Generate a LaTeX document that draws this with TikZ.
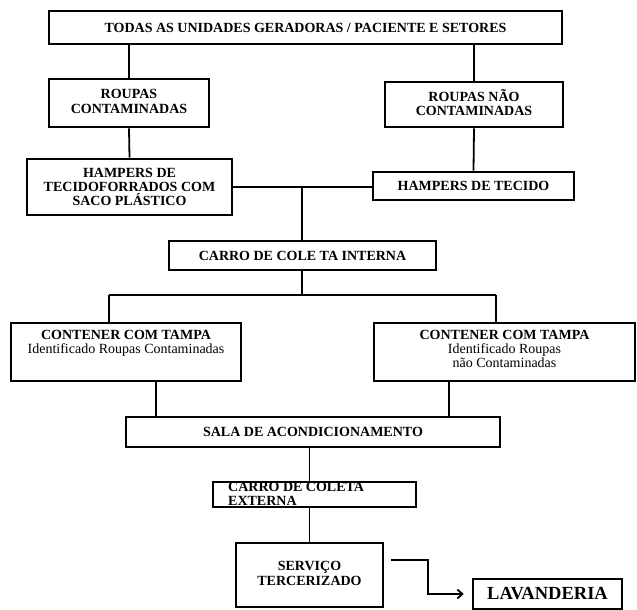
\documentclass[tikz,border=0pt]{standalone}
\usepackage{fontspec}
\setmainfont{Liberation Serif}
\usetikzlibrary{arrows.meta}
\newcommand\idfont{\fontsize{14}{14}\selectfont\mdseries}
\begin{document}
\begin{tikzpicture}[x=1pt,y=-1pt,
  box/.style={draw=black,line width=2.6pt,rectangle,inner sep=0pt,align=center,
    font=\fontsize{14}{14.3}\selectfont\bfseries},
  plain/.style={inner sep=0pt,align=center,font=\fontsize{14}{14}\selectfont\bfseries},
  conn/.style={draw=black,line width=1.8pt},
  arr/.style={conn,-{Straight Barb[length=5pt,width=9pt,line width=1.8pt]},shorten >=8pt}]
\useasboundingbox[fill=white] (0,0) rectangle (637,610);

% boxes: centre, width, height
\node[box,minimum width=513,minimum height=33] (todas) at (305.5,27.5)
  {TODAS AS UNIDADES GERADORAS / PACIENTE E SETORES};
\node[box,minimum width=160,minimum height=48] (rc) at (129,103)
  {\raisebox{4pt}{\begin{tabular}{@{}c@{}}ROUPAS\\CONTAMINADAS\end{tabular}}};
\node[box,minimum width=178,minimum height=45] (rn) at (474,104.5)
  {\raisebox{2pt}{\begin{tabular}{@{}c@{}}ROUPAS NÃO\\CONTAMINADAS\end{tabular}}};
\node[box,minimum width=205,minimum height=56] (hl) at (129.5,187)
  {HAMPERS DE\\TECIDOFORRADOS COM\\SACO PLÁSTICO};
\node[box,minimum width=201,minimum height=28] (ht) at (473.5,186)
  {HAMPERS DE TECIDO};
\node[box,minimum width=267,minimum height=29] (ci) at (302.5,255.5)
  {CARRO DE COLE TA INTERNA};
\node[box,minimum width=230,minimum height=58] (cl) at (126,352) {};
\node[plain,anchor=north] (clt) at (126,330)
  {CONTENER COM TAMPA\\{\idfont Identificado Roupas Contaminadas}};
\node[box,minimum width=261,minimum height=58] (cr) at (504.5,352) {};
\node[plain,anchor=north] (crt) at (504.5,330)
  {CONTENER COM TAMPA\\{\idfont Identificado Roupas}\\{\idfont não Contaminadas}};
\node[box,minimum width=374,minimum height=30] (sala) at (313,432)
  {SALA DE ACONDICIONAMENTO};
\node[box,minimum width=203,minimum height=25] (ce) at (314.5,494.5) {};
\node[plain,anchor=north west,align=left,font=\fontsize{14}{13.5}\selectfont\bfseries] (cet) at (228,482.5)
  {CARRO DE COLETA\\EXTERNA};
\node[box,minimum width=147,minimum height=64] (sv) at (309.5,575)
  {\raisebox{7pt}{\begin{tabular}{@{}c@{}}SERVIÇO\\TERCERIZADO\end{tabular}}};
\node[box,minimum width=149,minimum height=30,font=\fontsize{18.5}{20}\selectfont\bfseries] (lav) at (547.5,594)
  {LAVANDERIA};

% junction points of the connectors
\coordinate (j1) at (302,187);
\coordinate (j2) at (302,295);
\coordinate (xl) at (109,0);
\coordinate (xr) at (496,0);
\coordinate (xsl) at (156,0);
\coordinate (xsr) at (449,0);
\coordinate (a0) at (391,560);
\coordinate (xk) at (428,0);

% connectors
\draw[conn] (todas.south -| rc.north) -- (rc.north);
\draw[conn] (todas.south -| rn.north) -- (rn.north);
\draw[conn] (rc.south) -- (hl.north);
\draw[conn] (rn.south) -- (ht.north);
\draw[conn] (hl.east |- j1) -- (j1) -- (ht.west |- j1);
\draw[conn] (j1) -- (ci.north -| j1);
\draw[conn] (ci.south -| j2) -- (j2);
\draw[conn] (j2 -| xl) -- (j2 -| xr);
\draw[conn] (j2 -| xl) -- (cl.north -| xl);
\draw[conn] (j2 -| xr) -- (cr.north -| xr);
\draw[conn] (cl.south -| xsl) -- (sala.north -| xsl);
\draw[conn] (cr.south -| xsr) -- (sala.north -| xsr);
\draw[conn] (sala.south -| sv.north) -- (ce.north -| sv.north);
\draw[conn] (ce.south -| sv.north) -- (sv.north);
\draw[arr] (a0) -- (a0 -| xk) |- (lav.west);
\end{tikzpicture}
\end{document}
